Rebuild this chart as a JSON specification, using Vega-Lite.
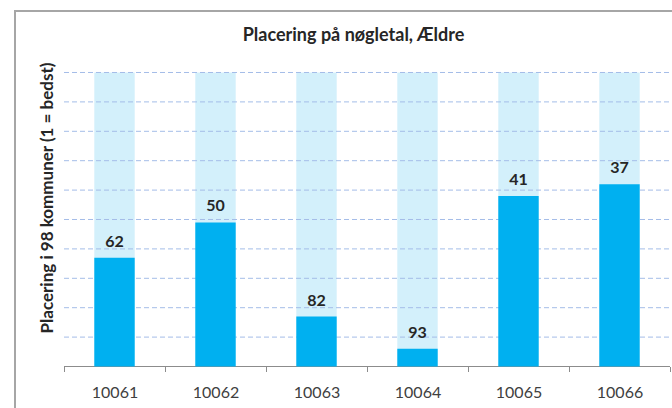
{
  "$schema": "https://vega.github.io/schema/vega-lite/v6.json",
  "width": 659,
  "height": 400,
  "autosize": "none",
  "padding": {"left": 15, "top": 11, "right": -2, "bottom": -3},
  "title": {
    "text": "Svendborg",
    "anchor": "start",
    "frame": "group",
    "offset": 8,
    "baseline": "alphabetic",
    "dx": 22,
    "font": "Lato",
    "fontSize": 18,
    "fontWeight": "normal",
    "color": "#000000"
  },
  "config": {
    "font": "Lato",
    "view": {"stroke": "#a6a6a6", "strokeWidth": 2}
  },
  "data": {
    "values": [
      {"kode": "10061", "placering": 62, "hoejde": 37},
      {"kode": "10062", "placering": 50, "hoejde": 49},
      {"kode": "10063", "placering": 82, "hoejde": 17},
      {"kode": "10064", "placering": 93, "hoejde": 6},
      {"kode": "10065", "placering": 41, "hoejde": 58},
      {"kode": "10066", "placering": 37, "hoejde": 62}
    ]
  },
  "layer": [
    {
      "mark": {"type": "bar", "color": "#D3F0FB", "width": {"band": 0.4}},
      "encoding": {
        "x": {
          "field": "kode",
          "type": "nominal",
          "scale": {"paddingInner": 0, "paddingOuter": 0.2624, "align": 0.9245, "round": false},
          "axis": {
            "title": null,
            "labelAngle": 0,
            "domain": false,
            "grid": false,
            "tickBand": "extent",
            "ticks": true,
            "tickSize": 5,
            "tickColor": "#8c8c8c",
            "tickWidth": 1,
            "offset": -44.5,
            "labelFont": "Lato",
            "labelFontSize": 16,
            "labelColor": "#404040",
            "labelBaseline": "alphabetic",
            "labelPadding": 25.5
          }
        },
        "y": {
          "datum": 100,
          "type": "quantitative",
          "scale": {"domain": [-15.136, 120.918], "nice": false, "zero": false},
          "axis": {
            "title": "Placering i 98 kommuner (1 = bedst)",
            "labels": false,
            "ticks": false,
            "domain": false,
            "grid": false,
            "titleX": 32,
            "titleY": 186.5,
            "titleAngle": -90,
            "titleAlign": "center",
            "titleBaseline": "middle",
            "titleFont": "Lato",
            "titleFontSize": 17,
            "titleFontWeight": "bold",
            "titleColor": "#262626"
          }
        },
        "y2": {"datum": 0}
      }
    },
    {
      "data": {"values": [{"v": 10}, {"v": 20}, {"v": 30}, {"v": 40}, {"v": 50}, {"v": 60}, {"v": 70}, {"v": 80}, {"v": 90}, {"v": 100}]},
      "mark": {"type": "rule", "color": "#A4BDE8", "strokeWidth": 1, "strokeDash": [5, 3]},
      "encoding": {
        "x": {"datum": "10061", "bandPosition": 0},
        "x2": {"datum": "10066", "bandPosition": 1},
        "y": {"field": "v", "type": "quantitative"}
      }
    },
    {
      "data": {"values": [{"v": 0}]},
      "mark": {"type": "rule", "color": "#8c8c8c", "strokeWidth": 1},
      "encoding": {
        "x": {"datum": "10061", "bandPosition": 0},
        "x2": {"datum": "10066", "bandPosition": 1},
        "y": {"field": "v", "type": "quantitative"}
      }
    },
    {
      "mark": {"type": "bar", "color": "#00B0F0", "width": {"band": 0.4}},
      "encoding": {
        "x": {"field": "kode", "type": "nominal"},
        "y": {"field": "hoejde", "type": "quantitative"},
        "y2": {"datum": 0}
      }
    },
    {
      "mark": {"type": "text", "dy": -11, "baseline": "alphabetic", "fontWeight": "bold", "fontSize": 16, "color": "#262626", "font": "Lato"},
      "encoding": {
        "x": {"field": "kode", "type": "nominal"},
        "y": {"field": "hoejde", "type": "quantitative"},
        "text": {"field": "placering", "type": "quantitative"}
      }
    },
    {
      "data": {"values": [{"overskrift": "Placering på nøgletal, Ældre"}]},
      "mark": {"type": "text", "dx": -13.5, "baseline": "alphabetic", "align": "center", "fontWeight": "bold", "fontSize": 18, "color": "#262626", "font": "Lato"},
      "encoding": {
        "x": {"datum": "10063", "bandPosition": 1},
        "y": {"datum": 110.71},
        "text": {"field": "overskrift", "type": "nominal"}
      }
    }
  ]
}
